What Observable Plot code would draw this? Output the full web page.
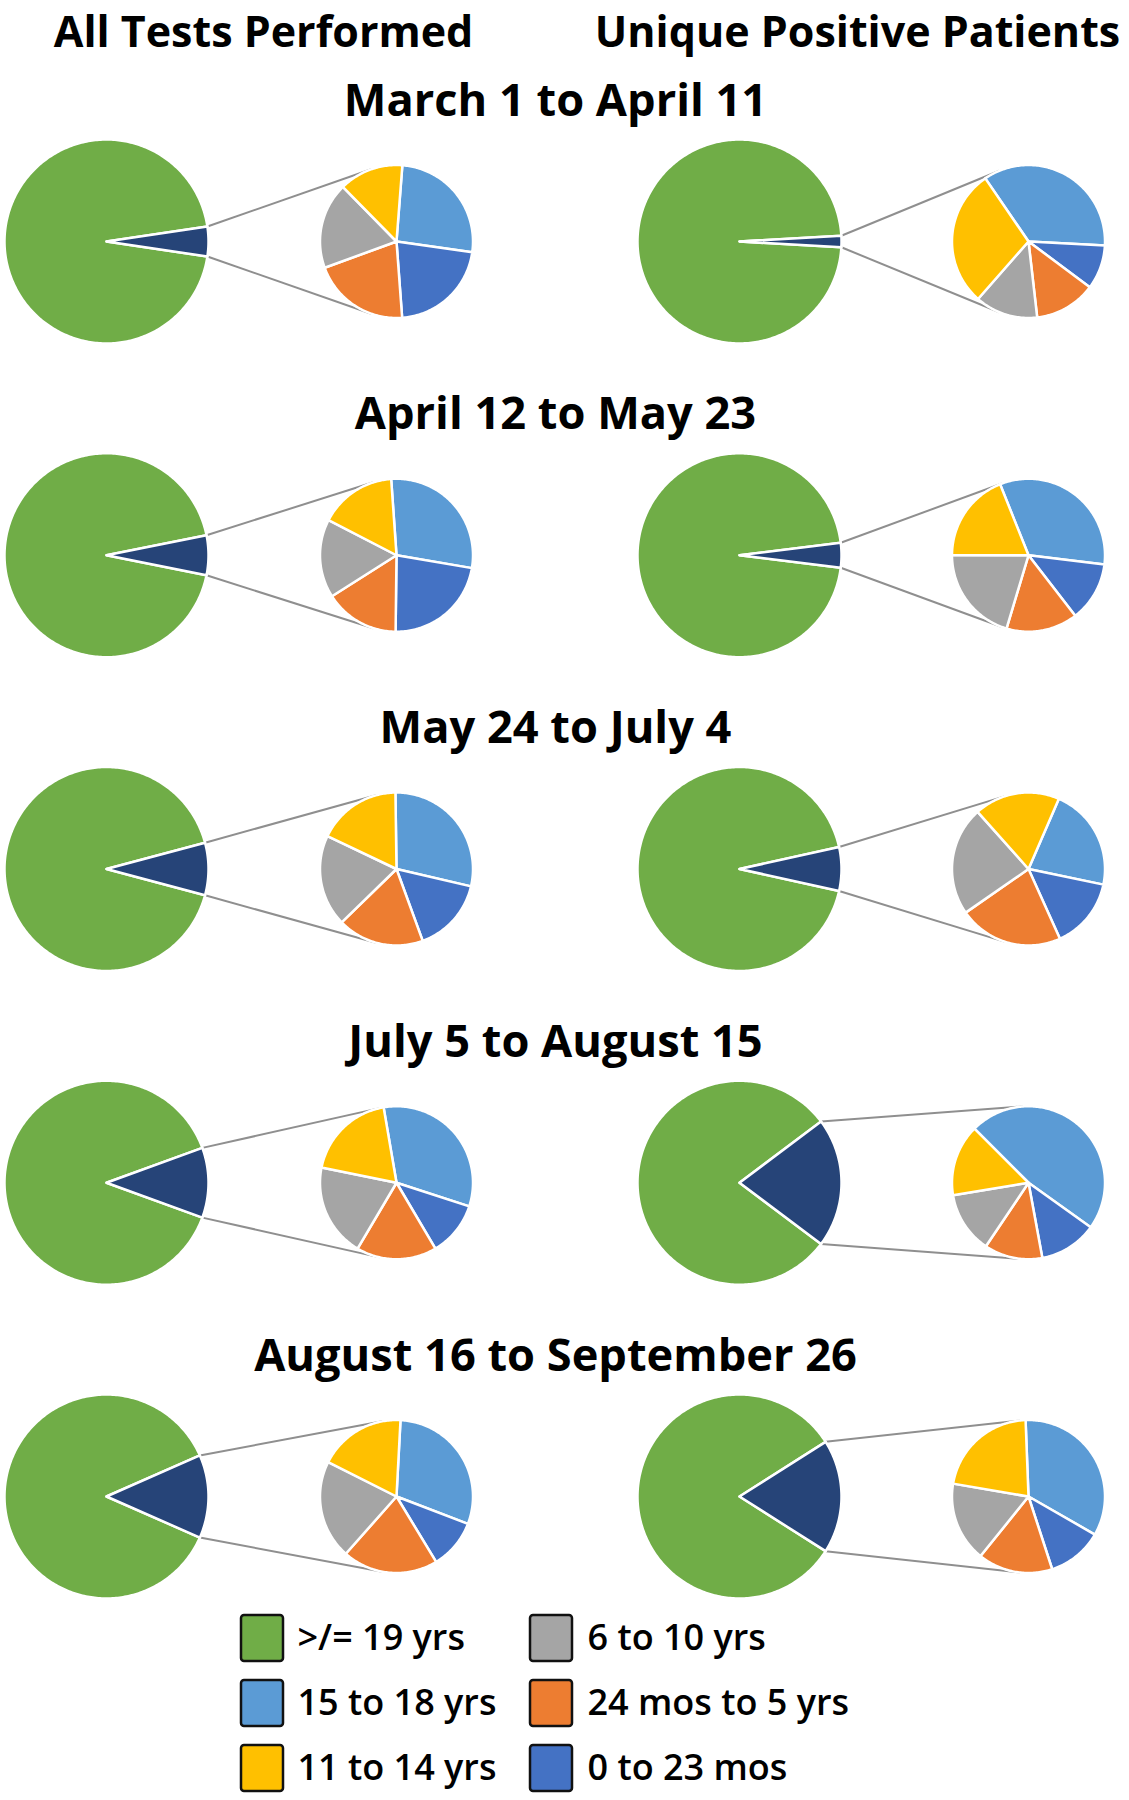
<!DOCTYPE html>
<html>
<head>
<meta charset="utf-8">
<script src="https://cdn.jsdelivr.net/npm/d3@7"></script>
<script src="https://cdn.jsdelivr.net/npm/@observablehq/plot@0.6"></script>
<style>
  html, body { margin: 0; padding: 0; background: #ffffff; }
  #chart { width: 1129px; }
</style>
</head>
<body>
<div id="chart"></div>
<script>
// ---------------- DATA ----------------
const columns = ["All Tests Performed", "Unique Positive Patients"];
const periods = ["March 1 to April 11", "April 12 to May 23", "May 24 to July 4", "July 5 to August 15", "August 16 to September 26"];
const categories = [">/= 19 yrs", "15 to 18 yrs", "11 to 14 yrs", "6 to 10 yrs", "24 mos to 5 yrs", "0 to 23 mos"];
const pediatricLabel = "< 19 yrs";
// share of adults (>/= 19 yrs) in %, per period
const adultTests    = [95.3, 93.7, 91.7, 88.9, 86.8];
const adultPatients = [98.2, 96.1, 93.1, 79.5, 82.0];
// breakdown of the pediatric share (% of < 19 yrs), per period
const tests15to18 = [26.0, 28.8, 28.9, 32.7, 30.0];
const tests0to23m = [21.6, 22.5, 15.8, 11.5, 10.5];
const tests24mTo5 = [20.6, 15.8, 18.3, 17.0, 20.2];
const tests6to10  = [18.2, 16.6, 19.4, 19.7, 20.9];
const tests11to14 = [13.6, 16.3, 17.7, 19.1, 18.4];
const patients15to18 = [35.4, 33.0, 21.8, 47.4, 33.9];
const patients0to23m = [9.4, 12.6, 15.0, 12.2, 11.7];
const patients24mTo5 = [13.0, 15.1, 22.1, 12.3, 15.8];
const patients6to10  = [13.3, 20.4, 23.1, 13.0, 16.9];
const patients11to14 = [29.0, 18.9, 18.1, 15.1, 21.7];

// ---------------- STYLE / LAYOUT ----------------
const colors = {
  ">/= 19 yrs": "#70AD47",
  "15 to 18 yrs": "#5B9BD5",
  "11 to 14 yrs": "#FFC000",
  "6 to 10 yrs": "#A5A5A5",
  "24 mos to 5 yrs": "#ED7D31",
  "0 to 23 mos": "#4472C4",
  "< 19 yrs": "#264478"
};
const W = 1129, H = 1800;
const L = {
  bigR: 102, smallR: 76.5,
  bigX: [106, 739], smallX: [396, 1028],
  rowY0: 241, rowStep: 313.75,
  headerX: [263, 857], headerY: 46, headerSize: 43,
  titleX: 555, titleDy: -126, titleSize: 45.2,
  // rotation (deg, clockwise from 12 o'clock) of each secondary pie
  secondaryStart: [[4.4, -4, -0.8, -9.7, 3], [-34.4, -21.8, 23.4, -45, -2.2]],
  legSwX: [241, 530], legSwW: 42, legSwH: 46,
  legTextX: [297, 587], legY0: 1638, legStep: 65, legSize: 36
};
const rowY = i => L.rowY0 + i * L.rowStep;

// ---------------- GEOMETRY FROM DATA ----------------
const toRad = Math.PI / 180;
function wedge(id, cat, cx, cy, r, a0, a1) {
  const pts = [{id, cat, px: cx, py: cy}];
  const n = Math.max(2, Math.ceil(Math.abs(a1 - a0)));
  for (let k = 0; k <= n; k++) {
    const a = (a0 + (a1 - a0) * k / n) * toRad;
    pts.push({id, cat, px: cx + r * Math.sin(a), py: cy - r * Math.cos(a)});
  }
  return pts;
}
function tangent(P, S, r, upper) {
  const dx = P[0] - S[0], dy = P[1] - S[1];
  const d = Math.hypot(dx, dy);
  const phi = Math.atan2(dy, dx);
  const beta = Math.acos(r / d);
  const a = upper ? phi + beta : phi - beta;
  return [S[0] + r * Math.cos(a), S[1] + r * Math.sin(a)];
}

const secondaryOrder = ["15 to 18 yrs", "0 to 23 mos", "24 mos to 5 yrs", "6 to 10 yrs", "11 to 14 yrs"];
const secondarySeries = [
  [tests15to18, tests0to23m, tests24mTo5, tests6to10, tests11to14],
  [patients15to18, patients0to23m, patients24mTo5, patients6to10, patients11to14]
];
const adultSeries = [adultTests, adultPatients];

const polys = [];
const links = [];
let uid = 0;
periods.forEach((p, i) => {
  columns.forEach((c, j) => {
    const cy = rowY(i);
    const bx = L.bigX[j], sx = L.smallX[j];
    const ped = 100 - adultSeries[j][i];
    const h = ped / 100 * 180;
    polys.push(...wedge(uid++, ">/= 19 yrs", bx, cy, L.bigR, 90 + h, 450 - h));
    polys.push(...wedge(uid++, pediatricLabel, bx, cy, L.bigR, 90 - h, 90 + h));
    const vals = secondarySeries[j].map(s => s[i]);
    const total = d3.sum(vals);
    let a = L.secondaryStart[j][i];
    vals.forEach((v, k) => {
      const span = v / total * 360;
      polys.push(...wedge(uid++, secondaryOrder[k], sx, cy, L.smallR, a, a + span));
      a += span;
    });
    const Pu = [bx + L.bigR * Math.cos(h * toRad), cy - L.bigR * Math.sin(h * toRad)];
    const Pl = [bx + L.bigR * Math.cos(h * toRad), cy + L.bigR * Math.sin(h * toRad)];
    const Tu = tangent(Pu, [sx, cy], L.smallR, true);
    const Tl = tangent(Pl, [sx, cy], L.smallR, false);
    links.push({x1: Pu[0], y1: Pu[1], x2: Tu[0], y2: Tu[1]});
    links.push({x1: Pl[0], y1: Pl[1], x2: Tl[0], y2: Tl[1]});
  });
});

const colorDomain = [...categories, pediatricLabel];
const font = "Open Sans";

const chart = Plot.plot({
  width: W, height: H,
  margin: 0,
  x: {type: "identity", axis: null},
  y: {type: "identity", axis: null},
  color: {domain: colorDomain, range: colorDomain.map(d => colors[d]), legend: false},
  style: {fontFamily: font, background: "#ffffff", color: "#000"},
  marks: [
    Plot.link(links, {x1: "x1", y1: "y1", x2: "x2", y2: "y2", stroke: "#8f8f8f", strokeWidth: 2}),
    Plot.line(polys, {x: "px", y: "py", z: "id", fill: "cat", stroke: "#ffffff", strokeWidth: 2.5, curve: "linear-closed"}),
    Plot.text(columns, {x: (d, i) => L.headerX[i], y: () => L.headerY, text: d => d, fontSize: L.headerSize, fontWeight: "bold", fontFamily: font, lineAnchor: "bottom", fill: "#000"}),
    Plot.text(periods, {x: () => L.titleX, y: (d, i) => rowY(i) + L.titleDy, text: d => d, fontSize: L.titleSize, fontWeight: "bold", fontFamily: font, lineAnchor: "bottom", fill: "#000"}),
    Plot.rect(categories, {
      x1: (d, i) => L.legSwX[Math.floor(i / 3)],
      x2: (d, i) => L.legSwX[Math.floor(i / 3)] + L.legSwW,
      y1: (d, i) => L.legY0 + (i % 3) * L.legStep - L.legSwH / 2,
      y2: (d, i) => L.legY0 + (i % 3) * L.legStep + L.legSwH / 2,
      fill: d => d, stroke: "#111111", strokeWidth: 2.5, rx: 3
    }),
    Plot.text(categories, {
      x: (d, i) => L.legTextX[Math.floor(i / 3)],
      y: (d, i) => L.legY0 + (i % 3) * L.legStep,
      text: d => d, textAnchor: "start", lineAnchor: "middle",
      fontSize: L.legSize, fontWeight: 600, fontFamily: font, fill: "#000"
    })
  ]
});
document.getElementById("chart").appendChild(chart);
</script>
</body>
</html>
